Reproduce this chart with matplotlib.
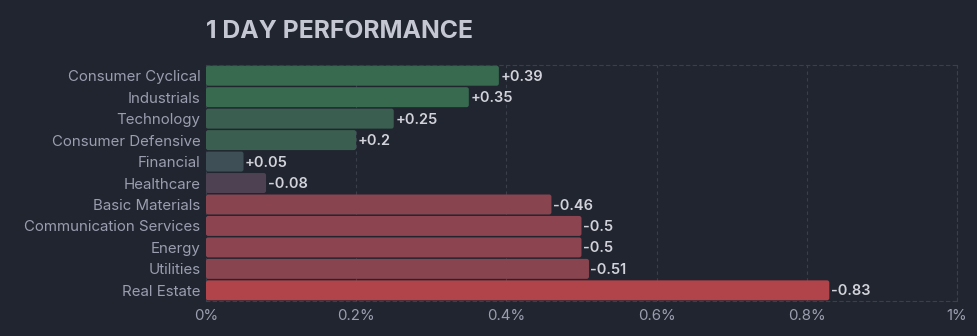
import matplotlib.pyplot as plt
from matplotlib.patches import FancyBboxPatch

sectors = ["Consumer Cyclical", "Industrials", "Technology", "Consumer Defensive",
           "Financial", "Healthcare", "Basic Materials", "Communication Services",
           "Energy", "Utilities", "Real Estate"]
change = [0.39, 0.35, 0.25, 0.2, 0.05, -0.08, -0.46, -0.5, -0.5, -0.51, -0.83]
colors = ["#386a50", "#386a50", "#3a5e4f", "#3a5e4f", "#3e4f56", "#4e4152",
          "#88444f", "#8c4450", "#8c4450", "#88444f", "#b1434a"]
xticks = [0, 0.2, 0.4, 0.6, 0.8, 1.0]
xticklabels = ["0%", "0.2%", "0.4%", "0.6%", "0.8%", "1%"]

bg = "#21252f"
plt.rcParams['font.family'] = ['Inter', 'DejaVu Sans']

fig = plt.figure(figsize=(9.78, 3.36), dpi=100, facecolor=bg)
ax = fig.add_axes([0.2106, 0.104, 0.7679, 0.7026], facecolor=bg)

y = list(range(len(sectors)))
bars = ax.barh(y, [abs(v) for v in change], height=0.93, color=colors)
for b, c in zip(bars, colors):
    b.set_visible(False)
    p = FancyBboxPatch((b.get_x(), b.get_y()), b.get_width(), b.get_height(),
                       boxstyle="round,pad=0,rounding_size=0.003",
                       mutation_aspect=35, facecolor=c, edgecolor="none")
    ax.add_patch(p)

for yi, v in zip(y, change):
    ax.text(abs(v) + 0.002, yi + 0.05, f"{v:+g}", va="center", ha="left",
            fontsize=10.5, fontweight="semibold", color="#d2d3da")

ax.set_xlim(0, 1.0)
ax.set_ylim(len(sectors) - 0.5, -0.5)
ax.set_yticks(y)
ax.set_yticklabels(sectors)
ax.set_xticks(xticks)
ax.set_xticklabels(xticklabels)
ax.tick_params(axis="both", length=0, colors="#9a9eb0", labelsize=10.8)
ax.tick_params(axis="y", pad=4)
ax.tick_params(axis="x", pad=6)
ax.grid(axis="x", color="#3a3f4c", linestyle=(0, (3, 3)), linewidth=0.8)
ax.set_axisbelow(True)
for s in ["top", "bottom", "right"]:
    ax.spines[s].set_color("#3a3f4c")
    ax.spines[s].set_linestyle((0, (3, 3)))
    ax.spines[s].set_linewidth(0.8)
ax.spines["left"].set_visible(False)

fig.text(0.2106, 0.905, "1 DAY PERFORMANCE", fontsize=17.8, fontweight="bold",
         color="#c5c7d2", va="center", ha="left")

fig.savefig("out.png", facecolor=bg)
